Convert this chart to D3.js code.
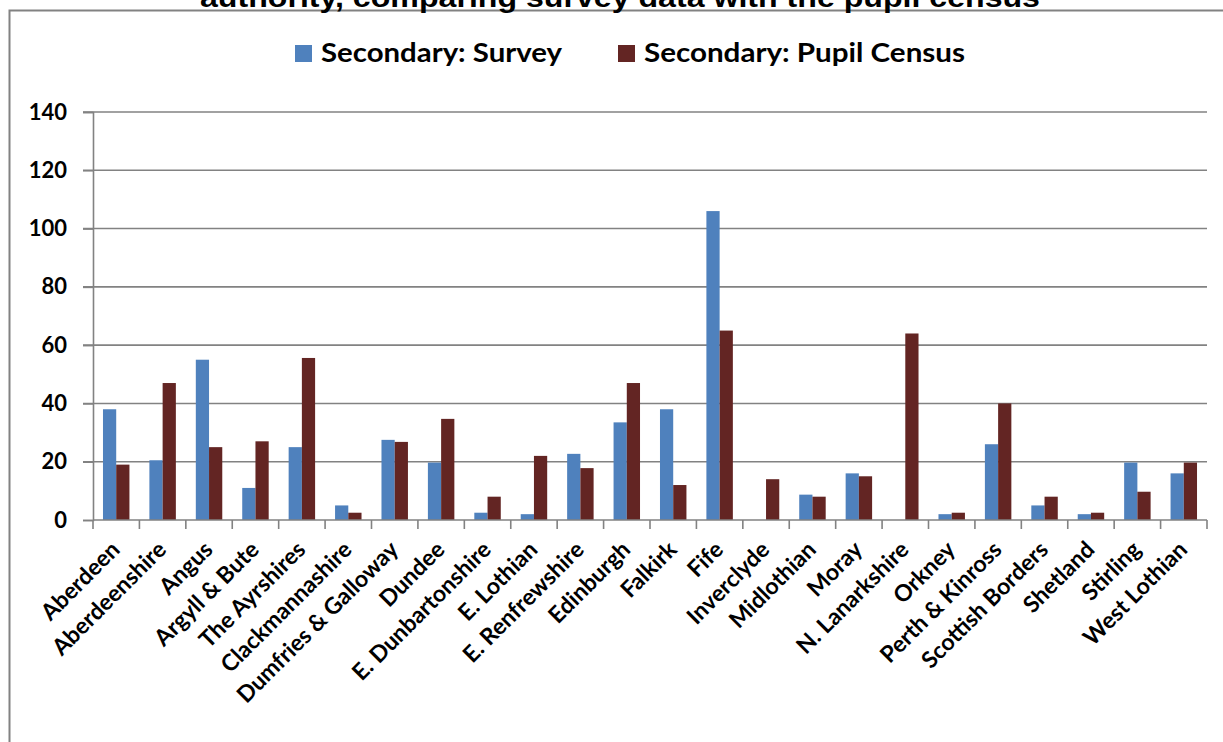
<!DOCTYPE html>
<html><head><meta charset="utf-8">
<script src="https://cdn.jsdelivr.net/npm/d3@7"></script>
<style>html,body{margin:0;padding:0;background:#fff;overflow:hidden}</style>
</head><body>
<svg id="chart" width="1223" height="742"></svg>
<script>
const titleText = "authority, comparing survey data with the pupil census";
const categories = ["Aberdeen","Aberdeenshire","Angus","Argyll & Bute","The Ayrshires","Clackmannashire","Dumfries & Galloway","Dundee","E. Dunbartonshire","E. Lothian","E. Renfrewshire","Edinburgh","Falkirk","Fife","Inverclyde","Midlothian","Moray","N. Lanarkshire","Orkney","Perth & Kinross","Scottish Borders","Shetland","Stirling","West Lothian"];
const seriesNames = ["Secondary: Survey","Secondary: Pupil Census"];
const surveyValues = [38,20.5,55,11,25,5,27.5,19.7,2.5,2,22.7,33.5,38,106,0,8.7,16,0,2,26,5,2,19.7,16];
const censusValues = [19,47,25,27,55.6,2.5,26.8,34.7,8,22,17.8,47,12,65,14,8,15,64,2.5,40,8,2.5,9.7,19.7];
const yTicks = [0,20,40,60,80,100,120,140];
const colors = ["#4F81BD","#632523"];

const svg = d3.select("#chart");
const pL = 93, pR = 1207, pT = 112, pB = 520;
const gray = "#828282";

// outer frame
svg.append("rect").attr("x",9.5).attr("y",10.5).attr("width",1300).attr("height",900)
  .attr("fill","none").attr("stroke",gray).attr("stroke-width",2);

// title (clipped at top, as in the original)
svg.append("text").attr("x",620).attr("y",7).attr("text-anchor","middle")
  .attr("font-family","Liberation Sans, Arial, sans-serif").attr("font-weight","bold")
  .attr("font-size",27).attr("textLength",840).attr("lengthAdjust","spacingAndGlyphs")
  .attr("fill","#000").text(titleText);

const x0 = d3.scaleBand().domain(categories).range([pL,pR]).paddingInner(0.43).paddingOuter(0.215);
const x1 = d3.scaleBand().domain([0,1]).range([0,x0.bandwidth()]);
const y = d3.scaleLinear().domain([0,140]).range([pB,pT]);

// gridlines
svg.append("g").selectAll("line").data(yTicks.filter(d=>d>0)).join("line")
  .attr("x1",pL-10).attr("x2",pR).attr("y1",d=>y(d)).attr("y2",d=>y(d))
  .attr("stroke",gray).attr("stroke-width",1.6);

// y axis
const yAxis = svg.append("g").attr("transform",`translate(${pL},0)`)
  .call(d3.axisLeft(y).tickValues(yTicks).tickSize(10).tickPadding(16));
yAxis.select(".domain").attr("stroke",gray).attr("stroke-width",1.6);
yAxis.selectAll(".tick line").attr("stroke",gray).attr("stroke-width",1.6);
yAxis.selectAll(".tick text").attr("font-family","Lato, sans-serif").attr("font-weight","bold")
  .attr("font-size",22).attr("fill","#000");

// bars
const data = categories.map((c,i)=>({c, v:[surveyValues[i],censusValues[i]]}));
const g = svg.append("g");
g.selectAll("g").data(data).join("g").attr("transform",d=>`translate(${x0(d.c)},0)`)
  .selectAll("rect").data(d=>d.v.map((v,k)=>({v,k}))).join("rect")
  .attr("x",d=>x1(d.k)).attr("width",x1.bandwidth())
  .attr("y",d=>y(d.v)).attr("height",d=>pB-y(d.v)).attr("fill",d=>colors[d.k]);

// x axis line and ticks at category boundaries
svg.append("line").attr("x1",pL).attr("x2",pR).attr("y1",pB).attr("y2",pB)
  .attr("stroke",gray).attr("stroke-width",1.6);
const step = x0.step();
const bounds = d3.range(categories.length+1).map(i=>pL + i*step);
svg.append("g").selectAll("line").data(bounds).join("line")
  .attr("x1",d=>d).attr("x2",d=>d).attr("y1",pB).attr("y2",pB+9)
  .attr("stroke",gray).attr("stroke-width",1.6);

// x labels
svg.append("g").selectAll("text").data(categories).join("text")
  .attr("transform",d=>`translate(${x0(d)+x0.bandwidth()/2+5},${pB+31}) rotate(-45)`)
  .attr("text-anchor","end")
  .attr("font-family","Lato, sans-serif").attr("font-weight","bold").attr("font-size",23)
  .attr("fill","#000").text(d=>d);

// legend
const legX = [295,618], legW = [241,321];
const leg = svg.append("g");
seriesNames.forEach((s,i)=>{
  leg.append("rect").attr("x",legX[i]).attr("y",45).attr("width",17).attr("height",17).attr("fill",colors[i]);
  leg.append("text").attr("x",legX[i]+26).attr("y",62)
    .attr("font-family","Lato, sans-serif").attr("font-weight","bold").attr("font-size",26)
    .attr("textLength",legW[i]).attr("lengthAdjust","spacingAndGlyphs")
    .attr("fill","#000").text(s);
});
</script>
</body></html>
